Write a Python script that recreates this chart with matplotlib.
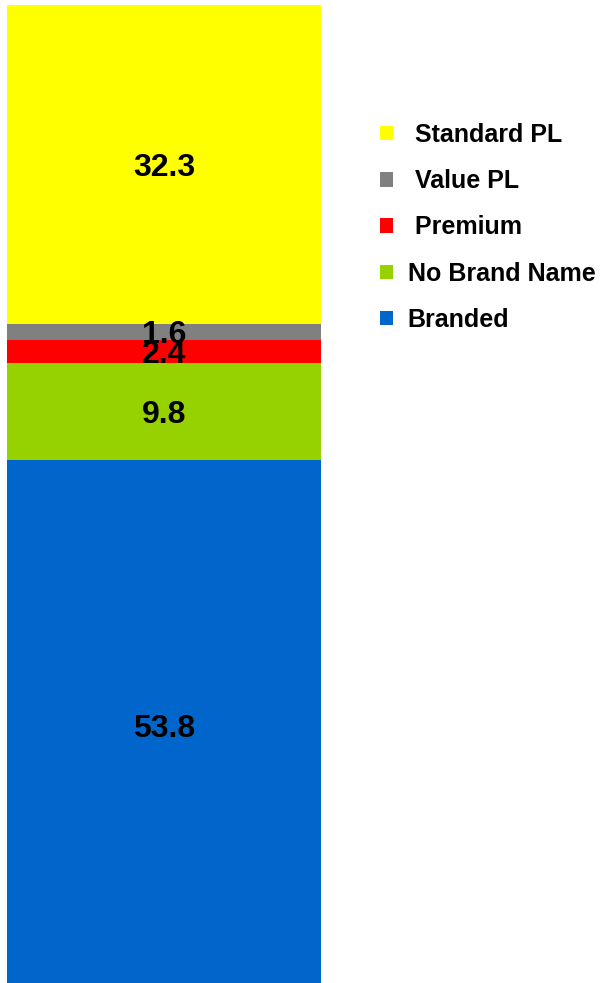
import matplotlib
matplotlib.use("Agg")
import matplotlib.pyplot as plt
from matplotlib.patches import Patch

plt.rcParams['font.family'] = ['Liberation Sans', 'DejaVu Sans']
plt.rcParams['font.weight'] = 'bold'

# Segments stacked from the bottom up
segments = ["Branded", "No Brand Name", "Premium", "Value PL", "Standard PL"]
values = [53.8, 9.8, 2.4, 1.6, 32.3]
colors = ["#0066CC", "#96D200", "#FF0000", "#808080", "#FFFF00"]
legend_labels = {"Standard PL": " Standard PL", "Value PL": " Value PL",
                 "Premium": " Premium", "No Brand Name": "No Brand Name",
                 "Branded": "Branded"}

fig = plt.figure(figsize=(6.05, 9.83), dpi=100)
W, H = 605, 983
# the bar runs a little past the lower edge of the canvas
ax = fig.add_axes([7 / W, -8 / H, (321 - 7) / W, (991 - 5) / H])

bottom = 0.0
for name, val, col in zip(segments, values, colors):
    bars = ax.bar([0], [val], width=1.0, bottom=bottom, color=col, label=name)
    texts = ax.bar_label(bars, labels=[f"{val:.1f}"], label_type="center",
                         fontsize=23, fontweight="bold", color="black")
    for t in texts:
        t.set_va("center_baseline")
    bottom += val

ax.set_xlim(-0.5, 0.5)
ax.set_ylim(0, sum(values))
ax.axis("off")

handles = [Patch(facecolor=c, edgecolor="none") for c in colors][::-1]
labels = [legend_labels[s] for s in segments][::-1]
fig.legend(handles, labels, loc="upper left", bbox_to_anchor=(380 / W, 1 - 123 / H),
           frameon=False, borderpad=0, borderaxespad=0,
           handlelength=0.52, handleheight=0.52, handletextpad=0.58,
           labelspacing=0.89, prop={"size": 18, "weight": "bold"})

fig.savefig("out.png", dpi=100)
